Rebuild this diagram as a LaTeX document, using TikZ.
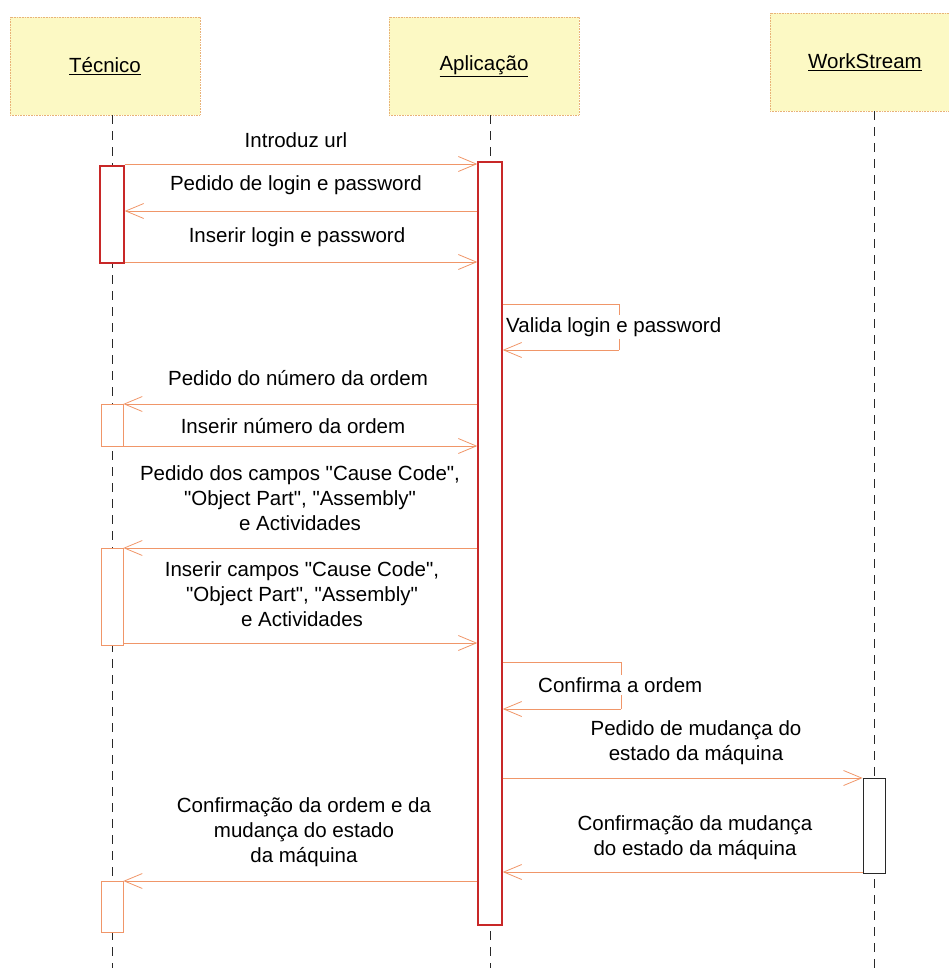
\documentclass[tikz,border=0pt]{standalone}
\usepackage{fontspec}
\setmainfont{Liberation Sans}[Ligatures=TeXOff]
\usetikzlibrary{arrows.meta}
\newcommand{\dq}{\symbol{34}}
\definecolor{hdrfill}{RGB}{252,249,196}
\definecolor{hdrline}{RGB}{232,178,120}
\definecolor{msgcol}{RGB}{240,150,105}
\definecolor{actred}{RGB}{200,40,40}
\definecolor{lifecol}{RGB}{40,40,40}
\tikzset{
  hdr/.style={draw=hdrline, densely dotted, fill=hdrfill, minimum width=190, minimum height=98, inner sep=0, line width=0.6},
  hdrtxt/.style={font=\fontsize{20.5}{25}\selectfont, inner sep=0},
  lifeline/.style={draw=lifecol, line width=0.9, dash pattern=on 9 off 7},
  actbox/.style={draw=actred, fill=white, line width=1.4, minimum width=24, inner sep=0},
  actthin/.style={draw=msgcol, fill=white, line width=0.6, minimum width=22, inner sep=0},
  actdark/.style={draw=lifecol, fill=white, line width=0.8, minimum width=22, inner sep=0},
  msg/.style={draw=msgcol, line width=0.8, -{Straight Barb[length=18,width=15]}},
  msgline/.style={draw=msgcol, line width=0.8},
  lbl/.style={font=\fontsize{20.5}{25}\selectfont, align=center, inner sep=0},
  selflbl/.style={font=\fontsize{20.5}{25}\selectfont, fill=white, inner sep=2, anchor=west},
}
\begin{document}
\begin{tikzpicture}[x=1pt,y=-1pt]
\useasboundingbox (0,0) rectangle (949,968);
% headers
\node[hdr] (hT) at (105,66) {};
\node[hdr] (hA) at (484,66) {};
\node[hdr] (hW) at (865,62) {};
\node[hdrtxt] at (hT) {\underline{Técnico}};
\node[hdrtxt] at (hA) {\underline{Aplicação}};
\node[hdrtxt] at (hW) {\underline{WorkStream}};
% lifeline ends
\coordinate (eT) at (112,968);
\coordinate (eA) at (490,968);
\coordinate (eW) at (874,968);
\draw[lifeline] (hT.south -| eT) -- (eT);
\draw[lifeline] (hA.south -| eA) -- (eA);
\draw[lifeline] (hW.south -| eW) -- (eW);
% activation boxes
\node[actbox, minimum height=763] (aA) at (490,543.5) {};
\node[actbox, minimum height=97] (aT1) at (112,214.5) {};
\node[actthin, minimum height=42] (aT2) at (112,425) {};
\node[actthin, minimum height=97] (aT3) at (112,596.5) {};
\node[actthin, minimum height=51] (aT4) at (112,906.5) {};
\node[actdark, minimum height=95] (aW) at (874,825.5) {};
% messages
\draw[msg] (aT1.east |- 0,164) -- (aA.west |- 0,164);
\node[lbl] at (296,140) {Introduz url};
\draw[msg] (aA.west |- 0,211) -- (aT1.east |- 0,211);
\node[lbl] at (296,185) {Pedido de login e password};
\draw[msg] (aT1.east |- 0,262) -- (aA.west |- 0,262);
\node[lbl] at (297,237) {Inserir login e password};
% self message 1
\coordinate (s1) at (619,304);
\coordinate (s2) at (619,350);
\draw[msgline] (aA.east |- s1) -- (s1) -- (s2);
\draw[msg] (s2) -- (aA.east |- s2);
\node[selflbl] at (504,327) {Valida login e password};
\draw[msg] (aA.west |- 0,404) -- (aT2.east |- 0,404);
\node[lbl] at (298,378) {Pedido do número da ordem};
\draw[msg] (aT2.east |- 0,446) -- (aA.west |- 0,446);
\node[lbl] at (293,426) {Inserir número da ordem};
\draw[msg] (aA.west |- 0,548) -- (aT3.east |- 0,548);
\node[lbl] at (300,498) {Pedido dos campos \dq Cause Code\dq,\\\dq Object Part\dq, \dq Assembly\dq\\e Actividades};
\draw[msg] (aT3.east |- 0,643) -- (aA.west |- 0,643);
\node[lbl] at (302,594) {Inserir campos \dq Cause Code\dq,\\\dq Object Part\dq, \dq Assembly\dq\\e Actividades};
% self message 2
\coordinate (s3) at (621,662);
\coordinate (s4) at (621,709);
\draw[msgline] (aA.east |- s3) -- (s3) -- (s4);
\draw[msg] (s4) -- (aA.east |- s4);
\node[selflbl] at (536,685) {Confirma a ordem};
\draw[msg] (aA.east |- 0,778) -- (aW.west |- 0,778);
\node[lbl] at (696,743) {Pedido de mudança do\\estado da máquina};
\draw[msg] (aW.west |- 0,872) -- (aA.east |- 0,872);
\node[lbl] at (695,838) {Confirmação da mudança\\do estado da máquina};
\draw[msg] (aA.west |- 0,881) -- (aT4.east |- 0,881);
\node[lbl] at (304,832) {Confirmação da ordem e da\\mudança do estado\\da máquina};
\end{tikzpicture}
\end{document}
